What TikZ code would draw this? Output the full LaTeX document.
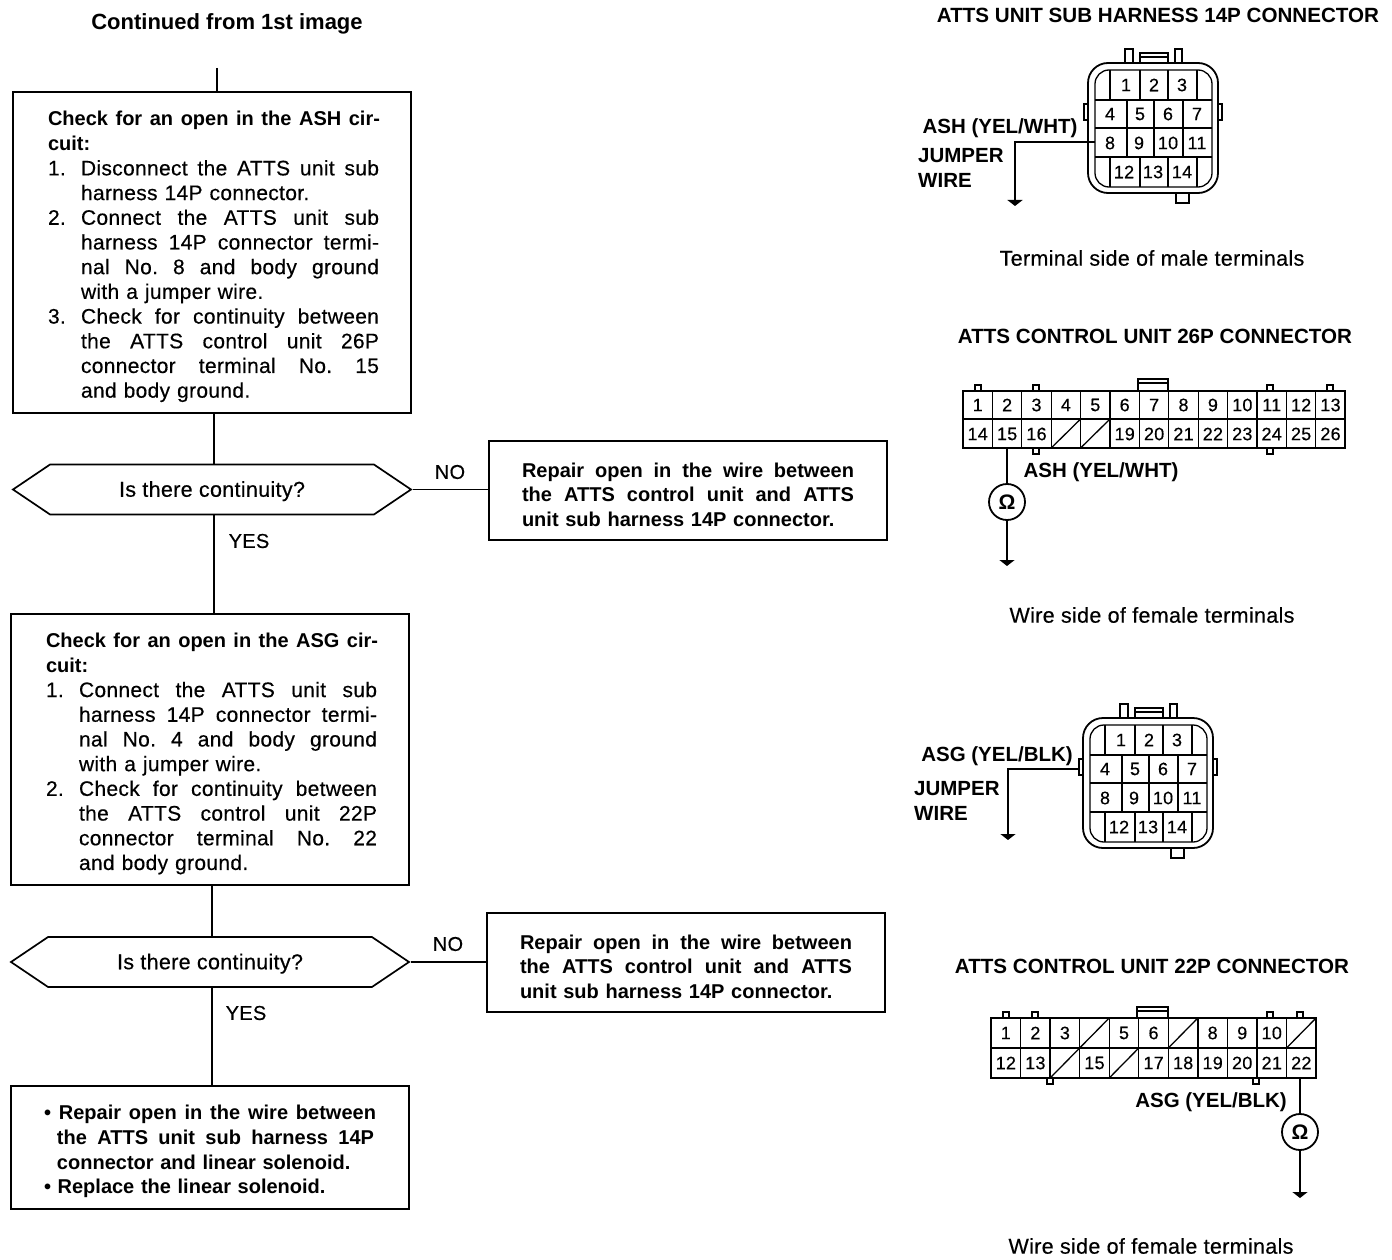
\documentclass[tikz,border=0pt]{standalone}
\usepackage{fontspec}
\setmainfont{Liberation Sans}
\newfontfamily\bodyfont{Liberation Sans}[LetterSpace=1.5, UprightFeatures={FakeBold=0.4}]
\usetikzlibrary{shapes,arrows.meta,calc}
\tikzstyle{block} = [rectangle, draw, line width=1.7pt, inner sep=0pt, text width=336pt, minimum width=398pt, align=left, font=\bodyfont\fontsize{21}{24.7}\selectfont]
\tikzstyle{repair} = [block, text width=332pt, font=\rmfamily\bfseries\fontsize{20}{24.7}\selectfont]
\tikzstyle{decision} = [signal, signal to=west and east, signal pointer angle=68, draw, line width=1.7pt, inner sep=0pt, minimum width=398pt, minimum height=50pt, text height=19pt, text depth=4.5pt, font=\bodyfont\fontsize{21.5}{24}\selectfont]
\tikzstyle{link} = [draw, line width=1.7pt]
\tikzstyle{wire} = [draw, line width=1.7pt]
\tikzstyle{earth} = [wire, -{Triangle[width=15pt,length=6pt]}]
\tikzstyle{meter} = [circle, draw, line width=1.8pt, minimum size=36pt, inner sep=0pt, font=\fontsize{21}{21}\selectfont\bfseries]
\tikzstyle{title} = [inner sep=0pt, font=\fontsize{20.6}{24}\selectfont\bfseries]
\tikzstyle{note} = [inner sep=0pt, font=\bodyfont\fontsize{21.5}{24}\selectfont]
\tikzstyle{answer} = [inner sep=0pt, font=\bodyfont\fontsize{20}{24}\selectfont]
\tikzstyle{wname} = [inner sep=0pt, align=left, font=\fontsize{20.5}{25}\selectfont\bfseries]
\tikzstyle{num} = [inner sep=0pt, font=\bodyfont\fontsize{18}{18}\selectfont]
\tikzstyle{cell} = [line width=1.3pt]
\tikzstyle{shell} = [line width=1.8pt]
% lines of the boxes, all forced out to the same right edge
\newcommand{\just}[2]{\makebox[#1][s]{\frenchspacing\spaceskip=.28em plus 1fil\relax #2}}
\newcommand{\topgap}{\rule{0pt}{23pt}}
\newcommand{\fl}[1]{\topgap\hspace*{4pt}\just{332pt}{\rmfamily\bfseries\fontsize{20}{24.7}\selectfont #1}}
\newcommand{\cl}[1]{\hspace*{4pt}{\rmfamily\bfseries\fontsize{20}{24.7}\selectfont #1}}
\newcommand{\il}[2]{\hspace*{4pt}\makebox[33pt][l]{#1}\just{298pt}{#2}}
\newcommand{\pl}[1]{\hspace*{37pt}#1}
\newcommand{\jl}[1]{\hspace*{37pt}\just{298pt}{#1}}
\newcommand{\rl}[1]{\just{332pt}{#1}}
% round 14P housing, #1 = shift, #2 = prefix of the names
\newcommand{\harness}[2]{
  \begin{scope}[shift={#1}]
    \draw [shell, rounded corners=20pt] (1088,63) rectangle (1218,193);
    \draw [cell, rounded corners=14pt] (1095,70) rectangle (1212,187);
    \draw [shell] (1088,104) -- (1084,104) -- (1084,120) -- (1088,120);
    \draw [shell] (1218,104) -- (1222,104) -- (1222,120) -- (1218,120);
    \draw [shell] (1125,63) -- (1125,49) -- (1133,49) -- (1133,63);
    \draw [shell] (1175,63) -- (1175,49) -- (1182,49) -- (1182,63);
    \draw [shell] (1140,63) -- (1140,53) -- (1168,53) -- (1168,63);
    \draw [cell] (1140,57) -- (1168,57);
    \draw [shell] (1176,193) -- (1176,203) -- (1189,203) -- (1189,193);
    \foreach \y in {100,128,157}
      \draw [cell] (1095,\y) -- (1212,\y);
    \foreach \x in {1110,1140,1168,1197} {
      \draw [cell] (\x,70) -- (\x,100);
      \draw [cell] (\x,157) -- (\x,187);
    }
    \foreach \x in {1127,1154,1183}
      \draw [cell] (\x,100) -- (\x,157);
    \foreach \n/\x/\y in {1/1126/85,2/1154/85,3/1182/85,4/1110/114,5/1140/114,6/1168/114,7/1197/114,
        8/1110/143,9/1139/143,10/1168/143,11/1197/143,12/1124/172,13/1153/172,14/1182/172}
      \node [num] (#2\n) at (\x,\y) {\n};
  \end{scope}
}
\begin{document}
\begin{tikzpicture}[x=1pt, y=-1pt]
  \useasboundingbox (0,0) rectangle (1392,1260);
  % flow chart
  \node [title, font=\fontsize{22}{24}\selectfont\bfseries] (start) at (227,24) {Continued from 1st image};
  \coordinate (startend) at (217,68);
  \node [block, minimum height=321pt] (chkash) at (212,252.5) {
    \fl{Check for an open in the ASH cir-}\\
    \cl{cuit:}\\
    \il{1.}{Disconnect the ATTS unit sub}\\
    \pl{harness 14P connector.}\\
    \il{2.}{Connect the ATTS unit sub}\\
    \jl{harness 14P connector termi-}\\
    \jl{nal No. 8 and body ground}\\
    \pl{with a jumper wire.}\\
    \il{3.}{Check for continuity between}\\
    \jl{the ATTS control unit 26P}\\
    \jl{connector terminal No. 15}\\
    \pl{and body ground.}};
  \node [decision] (decash) at (212,489.5) {Is there continuity?};
  \node [repair, minimum height=99pt] (repash) at (688,490.5) {
    \topgap\rl{Repair open in the wire between}\\
    \rl{the ATTS control unit and ATTS}\\
    unit sub harness 14P connector.};
  \node [answer] (noash) at (450,472) {NO};
  \node [answer] (yesash) at (249,541) {YES};
  \node [block, minimum height=271pt] (chkasg) at (210,749.5) {
    \fl{Check for an open in the ASG cir-}\\
    \cl{cuit:}\\
    \il{1.}{Connect the ATTS unit sub}\\
    \jl{harness 14P connector termi-}\\
    \jl{nal No. 4 and body ground}\\
    \pl{with a jumper wire.}\\
    \il{2.}{Check for continuity between}\\
    \jl{the ATTS control unit 22P}\\
    \jl{connector terminal No. 22}\\
    \pl{and body ground.}};
  \node [decision] (decasg) at (210,962) {Is there continuity?};
  \node [repair, minimum height=99pt] (repasg) at (686,962.5) {
    \topgap\rl{Repair open in the wire between}\\
    \rl{the ATTS control unit and ATTS}\\
    unit sub harness 14P connector.};
  \node [answer] (noasg) at (448,944) {NO};
  \node [answer] (yesasg) at (246,1013) {YES};
  \node [repair, minimum height=123pt] (final) at (210,1147.5) {
    \topgap\rl{• Repair open in the wire between}\\
    \hspace*{13pt}\just{317pt}{the ATTS unit sub harness 14P}\\
    \hspace*{13pt}connector and linear solenoid.\\
    • Replace the linear solenoid.};
  \path [link] (startend) -- (startend |- chkash.north);
  \path [link] ([xshift=2pt]chkash.south) -- ([xshift=2pt]decash.north);
  \path [link] ([xshift=2pt]decash.south) -- ([xshift=2pt]decash.south |- chkasg.north);
  \path [link] (decash.east) -- (repash.west |- decash.east);
  \path [link] ([xshift=2pt]chkasg.south) -- ([xshift=2pt]decasg.north);
  \path [link] ([xshift=2pt]decasg.south) -- ([xshift=2pt]final.north);
  \path [link] (decasg.east) -- (repasg.west |- decasg.east);
  % sub harness 14P, ASH
  \node [title] (t14a) at (1158,15) {ATTS UNIT SUB HARNESS 14P CONNECTOR};
  \harness{(0,0)}{ha}
  \node [wname] (lash) at (1000,128) {ASH (YEL/WHT)};
  \node [wname, anchor=west] (jwa) at (918,167.5) {JUMPER\\WIRE};
  \coordinate (pina) at (1095,142);
  \coordinate (gnda) at (1015,206);
  \path [earth] (pina) -| (gnda);
  \node [note] (sidea) at (1152,258) {Terminal side of male terminals};
  % control unit 26P
  \node [title] (t26) at (1155,336) {ATTS CONTROL UNIT 26P CONNECTOR};
  \foreach \x in {975,1033,1267,1327}
    \draw [shell] (\x,391) -- (\x,385) -- (\x+6,385) -- (\x+6,391);
  \foreach \x in {1033,1267}
    \draw [shell] (\x,448) -- (\x,454) -- (\x+6,454) -- (\x+6,448);
  \draw [shell] (1138,391) -- (1138,379) -- (1168,379) -- (1168,391);
  \draw [cell] (1138,383) -- (1168,383);
  \draw [shell] (963,391) rectangle (1345,448);
  \draw [cell] (963,419) -- (1345,419);
  \foreach \c in {1,...,12}
    \draw [cell] (963+29.4*\c,391) -- (963+29.4*\c,448);
  \foreach \c in {3,4}
    \draw [cell] (963+29.4*\c,448) -- (963+29.4*\c+29.4,419);
  \foreach \n [count=\c from 0] in {1,...,13}
    \node [num] (ua\n) at (977.7+29.4*\c,405) {\n};
  \foreach \n [count=\c from 0] in {14,15,16}
    \node [num] (ua\n) at (977.7+29.4*\c,434) {\n};
  \foreach \n [count=\c from 5] in {19,...,26}
    \node [num] (ua\n) at (977.7+29.4*\c,434) {\n};
  \node [wname] (lash2) at (1101,472) {ASH (YEL/WHT)};
  \node [meter] (ohma) at (1007,502) {Ω};
  \coordinate (pinu) at (1007,448);
  \coordinate (gndu) at (1007,566);
  \path [wire] (pinu) -- (ohma);
  \path [earth] (ohma) -- (gndu);
  \node [note] (sideb) at (1152,615) {Wire side of female terminals};
  % sub harness 14P, ASG
  \harness{(-5,655)}{hb}
  \node [wname] (lasg) at (997,756) {ASG (YEL/BLK)};
  \node [wname, anchor=west] (jwb) at (914,801) {JUMPER\\WIRE};
  \coordinate (pinb) at (1080,769);
  \coordinate (gndb) at (1008,840);
  \path [earth] (pinb) -| (gndb);
  % control unit 22P
  \node [title] (t22) at (1152,966) {ATTS CONTROL UNIT 22P CONNECTOR};
  \foreach \x in {1003,1032,1267,1297}
    \draw [shell] (\x,1018) -- (\x,1012) -- (\x+6,1012) -- (\x+6,1018);
  \foreach \x in {1047,1253}
    \draw [shell] (\x,1078) -- (\x,1084) -- (\x+6,1084) -- (\x+6,1078);
  \draw [shell] (1137,1018) -- (1137,1007) -- (1168,1007) -- (1168,1018);
  \draw [cell] (1137,1011) -- (1168,1011);
  \draw [shell] (991,1018) rectangle (1316,1078);
  \draw [cell] (991,1048) -- (1316,1048);
  \foreach \c in {1,...,10}
    \draw [cell] (991+29.55*\c,1018) -- (991+29.55*\c,1078);
  \foreach \c in {3,6,10}
    \draw [cell] (991+29.55*\c,1048) -- (991+29.55*\c+29.55,1018);
  \foreach \c in {2,4}
    \draw [cell] (991+29.55*\c,1078) -- (991+29.55*\c+29.55,1048);
  \foreach \n/\c in {1/0,2/1,3/2,5/4,6/5,8/7,9/8,10/9}
    \node [num] (ub\n) at (1005.8+29.55*\c,1033) {\n};
  \foreach \n/\c in {12/0,13/1,15/3,17/5,18/6,19/7,20/8,21/9,22/10}
    \node [num] (ub\n) at (1005.8+29.55*\c,1063) {\n};
  \node [wname] (lasg2) at (1211,1102) {ASG (YEL/BLK)};
  \node [meter] (ohmb) at (1300,1132) {Ω};
  \coordinate (pinv) at (1300,1078);
  \coordinate (gndv) at (1300,1198);
  \path [wire] (pinv) -- (ohmb);
  \path [earth] (ohmb) -- (gndv);
  \node [note] (sidec) at (1151,1246) {Wire side of female terminals};
\end{tikzpicture}
\end{document}
